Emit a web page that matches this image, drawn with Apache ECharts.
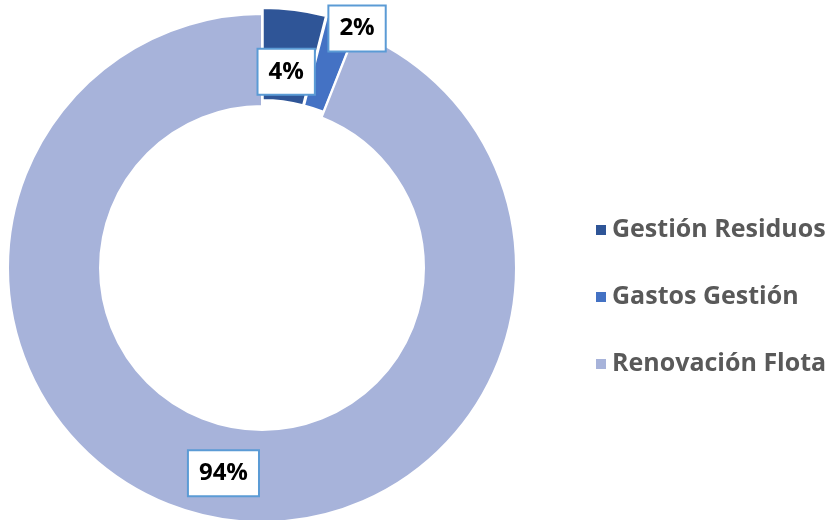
<!DOCTYPE html>
<html>
<head>
<meta charset="utf-8">
<script src="https://cdn.jsdelivr.net/npm/echarts@6/dist/echarts.min.js"></script>
<style>
  html, body { margin: 0; padding: 0; background: #ffffff; }
  #chart { width: 834px; height: 520px; }
</style>
</head>
<body>
<div id="chart"></div>
<script>
// Cost split across the three budget items
const categories = ['Gestión Residuos', 'Gastos Gestión', 'Renovación Flota'];
const shares = [4, 2, 94];
const colors = ['#2F5597', '#4472C4', '#A7B3DA'];
// The two small items are pulled out of the ring
const pulledOut = [true, true, false];

const chart = echarts.init(document.getElementById('chart'), null, { renderer: 'canvas' });

// Nudges for the value boxes so they sit clear of the thin slices
const labelShift = [[-3, 19], [28, -33], [1, -2]];

const data = categories.map((name, i) => ({
  name: name,
  value: shares[i],
  selected: pulledOut[i],
  itemStyle: { color: colors[i] }
}));

chart.setOption({
  animation: false,
  legend: {
    orient: 'vertical',
    left: 589,
    top: 210,
    icon: 'rect',
    itemWidth: 12,
    itemHeight: 12,
    itemGap: 37,
    selectedMode: false,
    data: categories,
    textStyle: {
      color: '#595959',
      fontFamily: 'Open Sans, sans-serif',
      fontWeight: 'bold',
      fontSize: 25,
      lineHeight: 30,
      padding: [0, 0, 0, 0]
    }
  },
  series: [{
    type: 'pie',
    center: [262, 268],
    radius: [162, 254],
    startAngle: 90,
    clockwise: true,
    selectedMode: 'multiple',
    selectedOffset: 6,
    avoidLabelOverlap: false,
    emphasis: { disabled: true },
    itemStyle: { borderColor: '#ffffff', borderWidth: 2 },
    label: {
      show: true,
      position: 'inside',
      formatter: '{c}%',
      color: '#000000',
      fontFamily: 'Open Sans, sans-serif',
      fontWeight: 'bold',
      fontSize: 24,
      lineHeight: 26,
      backgroundColor: '#ffffff',
      borderColor: '#5B9BD5',
      borderWidth: 2,
      padding: [10, 10, 8, 10]
    },
    labelLayout: function (params) {
      const s = labelShift[params.dataIndex];
      return { dx: s[0], dy: s[1] };
    },
    labelLine: { show: false },
    data: data
  }]
});
</script>
</body>
</html>
